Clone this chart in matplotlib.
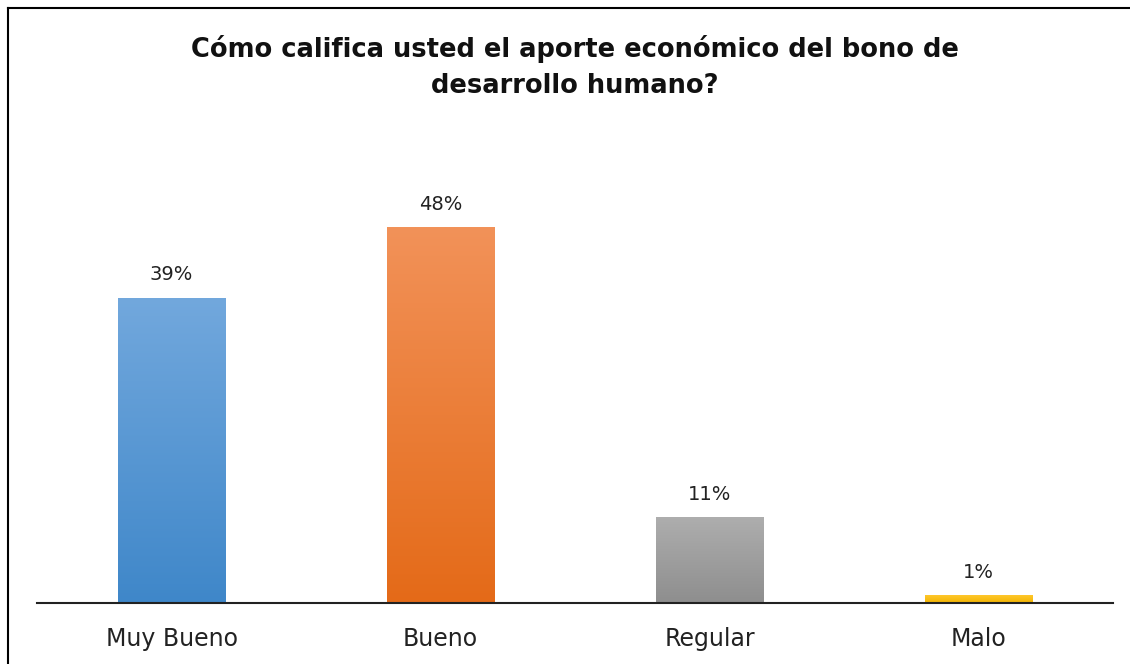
import matplotlib
matplotlib.use("Agg")
import matplotlib.pyplot as plt
import numpy as np
from matplotlib.colors import LinearSegmentedColormap
from matplotlib.patches import Rectangle

title = "Cómo califica usted el aporte económico del bono de\ndesarrollo humano?"
categories = ["Muy Bueno", "Bueno", "Regular", "Malo"]
values = [39, 48, 11, 1]
labels = ["39%", "48%", "11%", "1%"]
top_colors = ["#72A8DD", "#F29259", "#AEAEAE", "#FFC72C"]
bottom_colors = ["#3F87C9", "#E46A18", "#8E8E8E", "#F2B400"]

plt.rcParams['font.family'] = ['DejaVu Sans']

fig = plt.figure(figsize=(11.3, 6.64), dpi=100)
W, H = 1130, 664
ax = fig.add_axes([37 / W, (H - 603) / H, (1113 - 37) / W, 470 / H])

x = np.arange(len(categories))
bars = ax.bar(x, values, width=0.4, color="none", zorder=2)
ax.set_xlim(-0.5, len(categories) - 0.5)
ax.set_ylim(0, 60)

grad = np.linspace(0, 1, 256).reshape(-1, 1)
for b, tc, bc, lab in zip(bars, top_colors, bottom_colors, labels):
    cmap = LinearSegmentedColormap.from_list("g", [bc, tc])
    x0, y0, w, h = b.get_x(), b.get_y(), b.get_width(), b.get_height()
    im = ax.imshow(grad, cmap=cmap, extent=[x0, x0 + w, y0, y0 + h],
                   origin="lower", aspect="auto", zorder=2)
    clip = Rectangle((x0, y0), w, h, transform=ax.transData)
    im.set_clip_path(clip)
    ax.text(x0 + w / 2, y0 + h + 1.7, lab, ha="center", va="bottom",
            fontsize=14, color="#222222")

ax.set_xticks(x)
ax.set_xticklabels(categories, fontsize=17, color="#222222")
ax.tick_params(axis="x", length=0, pad=17)
ax.set_yticks([])
for s in ["top", "right", "left"]:
    ax.spines[s].set_visible(False)
ax.spines["bottom"].set_linewidth(1.5)
ax.spines["bottom"].set_color("#222222")

fig.text(575 / W, 1 - 67 / H, title, ha="center", va="center",
         fontsize=18.5, fontweight="bold", color="#111111", linespacing=1.5)

# chart border (left & top visible)
fig.add_artist(plt.Line2D([7.5 / W, 7.5 / W], [0, 1 - 8 / H], transform=fig.transFigure,
                          color="black", linewidth=1.5))
fig.add_artist(plt.Line2D([7.5 / W, 1], [1 - 8 / H, 1 - 8 / H], transform=fig.transFigure,
                          color="black", linewidth=1.5))

fig.savefig("out.png", dpi=100)
